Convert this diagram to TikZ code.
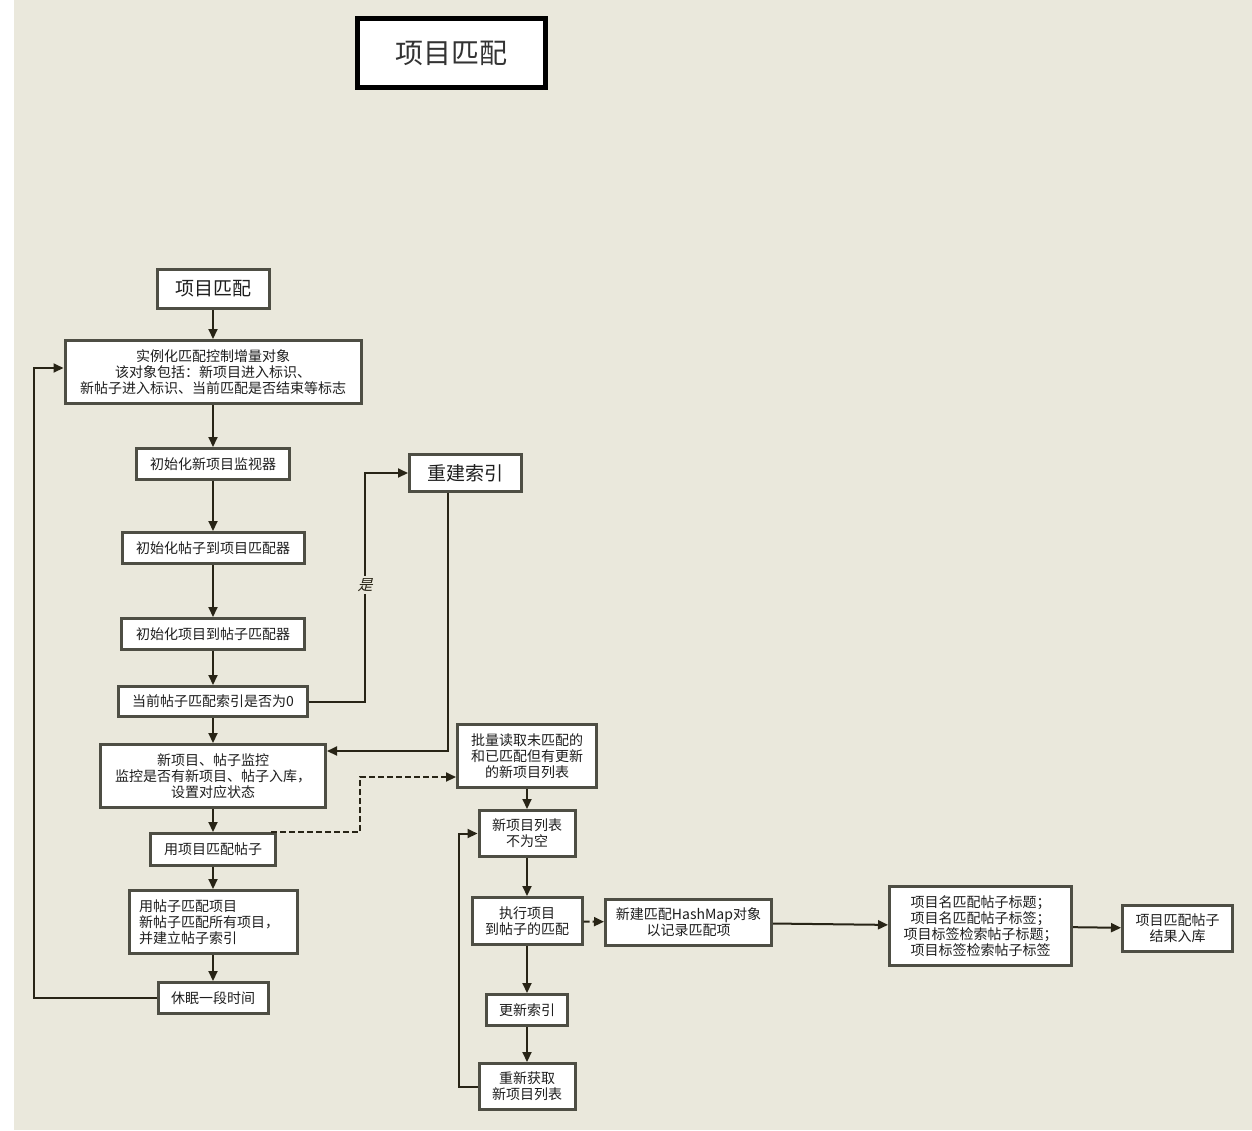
\documentclass[tikz,border=0pt]{standalone}
\usepackage{fontspec}
\setmainfont{Noto Sans CJK SC}
\newfontfamily\slantcjk{Noto Sans CJK SC}[FakeSlant=0.25]
\usetikzlibrary{arrows.meta}
\definecolor{paper}{RGB}{234,232,220}
\definecolor{boxline}{RGB}{78,78,68}
\definecolor{linkcol}{RGB}{40,36,22}
\definecolor{ink}{RGB}{30,30,30}
\begin{document}
\begin{tikzpicture}[x=1pt,y=-1pt,
  box/.style={draw=boxline,line width=3pt,fill=white,align=center,inner sep=0pt,
    text=ink,font=\fontsize{14}{16}\selectfont},
  bigbox/.style={box,font=\fontsize{19}{22}\selectfont},
  link/.style={draw=linkcol,line width=2pt,-{Triangle[length=10pt,width=9pt]}},
  dashlink/.style={link,dash pattern=on 6pt off 3pt},
  yeslabel/.style={fill=paper,inner sep=2pt,text=linkcol,font=\slantcjk\fontsize{15}{15}\selectfont}]
% page
\useasboundingbox (0,0) rectangle (1252,1130);
\fill[white] (0,0) rectangle (14,1130);
\fill[paper] (14,0) rectangle (1252,1130);

% title
\node[box,draw=black,line width=5pt,minimum width=188pt,minimum height=69pt,
  font=\fontsize{28}{30}\selectfont,text=black!80] (title) at (451.5,53) {项目匹配};

% left column
\node[bigbox,minimum width=112pt,minimum height=39pt] (start) at (213,289) {项目匹配};
\node[box,minimum width=296pt,minimum height=63pt] (inst) at (213,372)
  {实例化匹配控制增量对象\\该对象包括：新项目进入标识、\\新帖子进入标识、当前匹配是否结束等标志};
\node[box,minimum width=153pt,minimum height=31pt] (initnew) at (213,464) {初始化新项目监视器};
\node[box,minimum width=182pt,minimum height=31pt] (initpost) at (213,548) {初始化帖子到项目匹配器};
\node[box,minimum width=183pt,minimum height=31pt] (initproj) at (213,634) {初始化项目到帖子匹配器};
\node[box,minimum width=189pt,minimum height=30pt] (curidx) at (213,701.5) {当前帖子匹配索引是否为0};
\node[box,minimum width=225pt,minimum height=63pt] (monitor) at (213,776)
  {新项目、帖子监控\\监控是否有新项目、帖子入库，\\设置对应状态};
\node[box,minimum width=125pt,minimum height=32pt] (useproj) at (213,849.5) {用项目匹配帖子};
\node[box,minimum width=168pt,minimum height=63pt,align=left,text width=148pt] (usepost) at (213,922)
  {用帖子匹配项目\\新帖子匹配所有项目，\\并建立帖子索引};
\node[box,minimum width=110pt,minimum height=31pt] (sleep) at (213,998) {休眠一段时间};

\node[bigbox,minimum width=112pt,minimum height=37pt] (rebuild) at (465.5,473) {重建索引};

% right column
\node[box,minimum width=139pt,minimum height=63pt] (batch) at (527,756)
  {批量读取未匹配的\\和已匹配但有更新\\的新项目列表};
\node[box,minimum width=96pt,minimum height=46pt] (notempty) at (527,833.5) {新项目列表\\不为空};
\node[box,minimum width=110pt,minimum height=47pt] (exec) at (527,921) {执行项目\\到帖子的匹配};
\node[box,minimum width=81pt,minimum height=31pt] (update) at (527,1010) {更新索引};
\node[box,minimum width=96pt,minimum height=46pt] (refetch) at (527,1086.5) {重新获取\\新项目列表};
\node[box,minimum width=166pt,minimum height=46pt] (hashmap) at (688.5,922.5) {新建匹配HashMap对象\\以记录匹配项};
\node[box,minimum width=182pt,minimum height=79pt] (rules) at (980.5,926)
  {项目名匹配帖子标题；\\项目名匹配帖子标签；\\项目标签检索帖子标题；\\项目标签检索帖子标签};
\node[box,minimum width=110pt,minimum height=46pt] (store) at (1177.5,928.5) {项目匹配帖子\\结果入库};

% connectors
\draw[link] (start) -- (inst);
\draw[link] (inst) -- (initnew);
\draw[link] (initnew) -- (initpost);
\draw[link] (initpost) -- (initproj);
\draw[link] (initproj) -- (curidx);
\draw[link] (curidx) -- (monitor);
\draw[link] (monitor) -- (useproj);
\draw[link] (useproj) -- (usepost);
\draw[link] (usepost) -- (sleep);
\draw[link] (sleep.west) -- ++(-122.5,0) |- ([yshift=4pt]inst.west);
\draw[link] (curidx.east) -| (365,585) node[yeslabel] {是} |- (rebuild.west);
\draw[link] ([xshift=-17.5pt]rebuild.south) |- ([yshift=25pt]monitor.east);
\draw[dashlink] ([xshift=-6pt]useproj.north east) -- ++(89,0) |- ([yshift=-21pt]batch.west);
\draw[link] (batch) -- (notempty);
\draw[link] (notempty) -- (exec);
\draw[link] (exec) -- (update);
\draw[link] (update) -- (refetch);
\draw[link] (refetch.west) -- ++(-19,0) |- (notempty.west);
\draw[dashlink] (exec) -- (hashmap);
\draw[link] (hashmap) -- (rules);
\draw[link] (rules) -- (store);
\end{tikzpicture}
\end{document}
